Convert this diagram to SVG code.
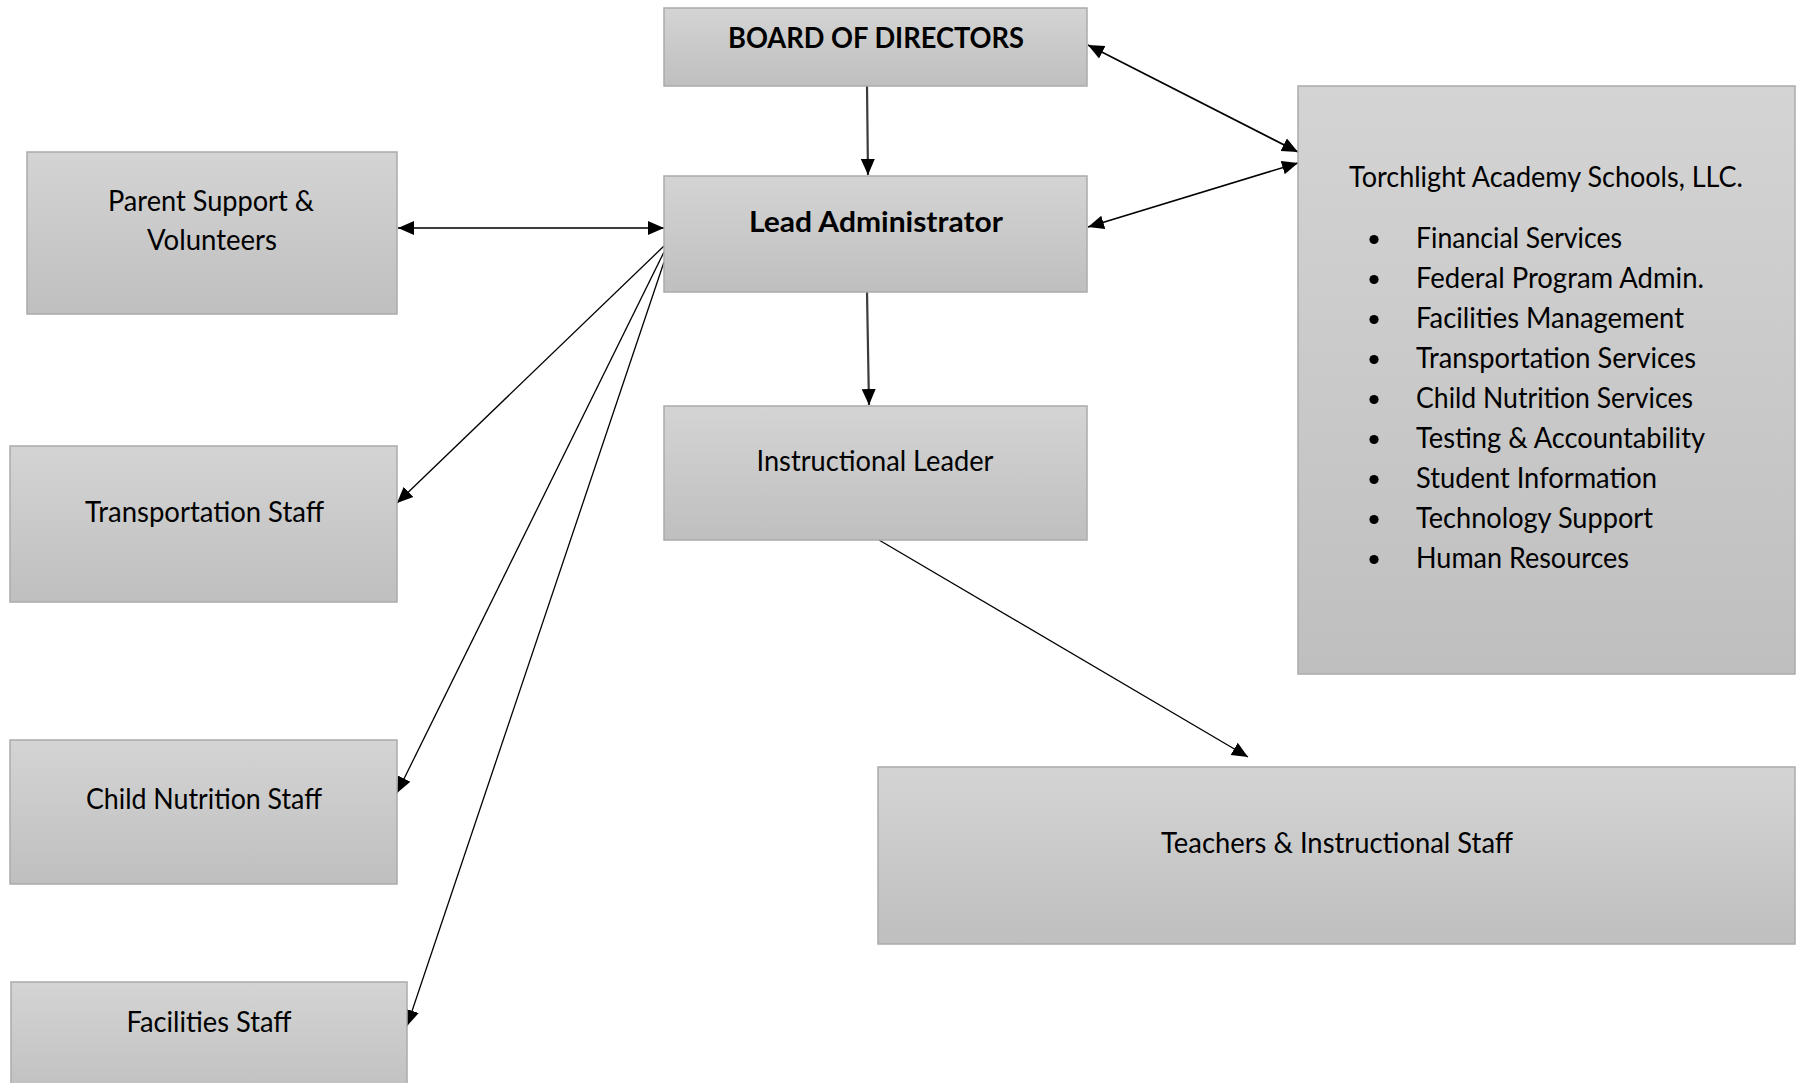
<svg xmlns="http://www.w3.org/2000/svg" width="1802" height="1083" viewBox="0 0 1802 1083">
<style>
  .box { fill: url(#boxGrad); stroke: #ababab; stroke-width: 1.5; }
  .lbl { font-family: "Lato", "Liberation Sans", sans-serif; font-size: 28.5px; fill: #000; text-anchor: middle; }
  .bold { font-weight: bold; }
  .item { font-family: "Lato", "Liberation Sans", sans-serif; font-size: 28.5px; fill: #000; }
  .thin { stroke: #000; stroke-width: 1.3; fill: none; }
  .thick { stroke: #3c3c3c; stroke-width: 2.2; fill: none; }
  .mid { stroke: #000; stroke-width: 1.6; fill: none; }
</style>
<defs>
  <linearGradient id="boxGrad" x1="0" y1="0" x2="0" y2="1">
    <stop offset="0" stop-color="#d4d4d4"/>
    <stop offset="1" stop-color="#bfbfbf"/>
  </linearGradient>
  <marker id="arr" markerUnits="userSpaceOnUse" markerWidth="16" markerHeight="16" viewBox="0 0 16 14" refX="16" refY="7" orient="auto-start-reverse">
    <path d="M0,0 L16,7 L0,14 Z" fill="#000"/>
  </marker>
</defs>
<rect width="1802" height="1083" fill="#fff"/>

<g id="connectors">
  <line class="thick" x1="867" y1="86" x2="868" y2="175" marker-end="url(#arr)"/>
  <line class="thick" x1="398" y1="228" x2="664" y2="228" marker-start="url(#arr)" marker-end="url(#arr)"/>
  <line class="mid" x1="1088" y1="45" x2="1298" y2="152" marker-start="url(#arr)" marker-end="url(#arr)"/>
  <line class="mid" x1="1088" y1="227" x2="1298" y2="163" marker-start="url(#arr)" marker-end="url(#arr)"/>
  <line class="thin" x1="664" y1="246" x2="397" y2="503" marker-end="url(#arr)"/>
  <line class="thin" x1="664" y1="252" x2="397" y2="793" marker-end="url(#arr)"/>
  <line class="thin" x1="664" y1="262" x2="407" y2="1026" marker-end="url(#arr)"/>
  <line class="thick" x1="867" y1="292" x2="869" y2="405" marker-end="url(#arr)"/>
  <line class="thin" x1="879" y1="540" x2="1248" y2="757" marker-end="url(#arr)"/>
</g>

<g id="board">
  <rect class="box" x="664" y="8" width="423" height="78"/>
  <text class="lbl bold" x="876" y="47.5" textLength="296" lengthAdjust="spacingAndGlyphs">BOARD OF DIRECTORS</text>
</g>
<g id="lead-admin">
  <rect class="box" x="664" y="176" width="423" height="116"/>
  <text class="lbl bold" x="876" y="232" textLength="254" lengthAdjust="spacingAndGlyphs">Lead Administrator</text>
</g>
<g id="parent-support">
  <rect class="box" x="27" y="152" width="370" height="162"/>
  <text class="lbl" x="211" y="211" textLength="206" lengthAdjust="spacingAndGlyphs">Parent Support &amp;</text>
  <text class="lbl" x="212" y="250" textLength="130" lengthAdjust="spacingAndGlyphs">Volunteers</text>
</g>
<g id="transportation-staff">
  <rect class="box" x="10" y="446" width="387" height="156"/>
  <text class="lbl" x="204.5" y="521.5" textLength="239" lengthAdjust="spacingAndGlyphs">Transportation Staff</text>
</g>
<g id="child-nutrition-staff">
  <rect class="box" x="10" y="740" width="387" height="144"/>
  <text class="lbl" x="204" y="809" textLength="236" lengthAdjust="spacingAndGlyphs">Child Nutrition Staff</text>
</g>
<g id="facilities-staff">
  <rect class="box" x="11" y="982" width="396" height="120"/>
  <text class="lbl" x="209" y="1032" textLength="165" lengthAdjust="spacingAndGlyphs">Facilities Staff</text>
</g>
<g id="instructional-leader">
  <rect class="box" x="664" y="406" width="423" height="134"/>
  <text class="lbl" x="875" y="470.5" textLength="237" lengthAdjust="spacingAndGlyphs">Instructional Leader</text>
</g>
<g id="teachers">
  <rect class="box" x="878" y="767" width="917" height="177"/>
  <text class="lbl" x="1337" y="853" textLength="352" lengthAdjust="spacingAndGlyphs">Teachers &amp; Instructional Staff</text>
</g>
<g id="torchlight">
  <rect class="box" x="1298" y="86" width="497" height="588"/>
  <text class="item" x="1349" y="186.5" textLength="394" lengthAdjust="spacingAndGlyphs">Torchlight Academy Schools, LLC.</text>
  <g fill="#000">
    <circle cx="1374" cy="239.5" r="4.6"/>
    <circle cx="1374" cy="279.5" r="4.6"/>
    <circle cx="1374" cy="319.5" r="4.6"/>
    <circle cx="1374" cy="359.5" r="4.6"/>
    <circle cx="1374" cy="399.5" r="4.6"/>
    <circle cx="1374" cy="439.5" r="4.6"/>
    <circle cx="1374" cy="479.5" r="4.6"/>
    <circle cx="1374" cy="519.5" r="4.6"/>
    <circle cx="1374" cy="559.5" r="4.6"/>
  </g>
  <text class="item" x="1416" y="248" textLength="206" lengthAdjust="spacingAndGlyphs">Financial Services</text>
  <text class="item" x="1416" y="288" textLength="288" lengthAdjust="spacingAndGlyphs">Federal Program Admin.</text>
  <text class="item" x="1416" y="328" textLength="268" lengthAdjust="spacingAndGlyphs">Facilities Management</text>
  <text class="item" x="1416" y="368" textLength="280" lengthAdjust="spacingAndGlyphs">Transportation Services</text>
  <text class="item" x="1416" y="408" textLength="277" lengthAdjust="spacingAndGlyphs">Child Nutrition Services</text>
  <text class="item" x="1416" y="448" textLength="289" lengthAdjust="spacingAndGlyphs">Testing &amp; Accountability</text>
  <text class="item" x="1416" y="488" textLength="241" lengthAdjust="spacingAndGlyphs">Student Information</text>
  <text class="item" x="1416" y="528" textLength="237" lengthAdjust="spacingAndGlyphs">Technology Support</text>
  <text class="item" x="1416" y="568" textLength="213" lengthAdjust="spacingAndGlyphs">Human Resources</text>
</g>
</svg>
